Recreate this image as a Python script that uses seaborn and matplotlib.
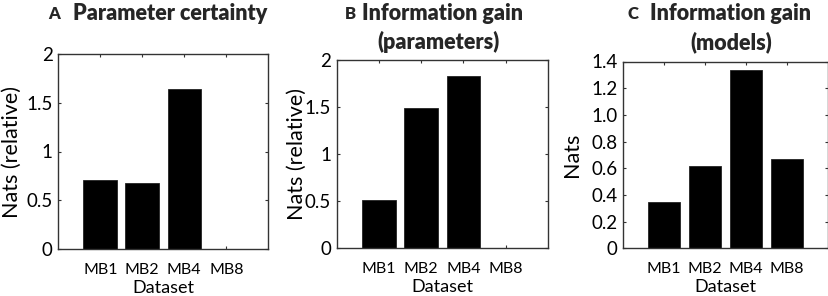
import matplotlib
matplotlib.use("Agg")
import matplotlib.pyplot as plt
import seaborn as sns
import pandas as pd

datasets = ["MB1", "MB2", "MB4", "MB8"]
param_certainty = [0.705, 0.677, 1.64, 0.0]
info_gain_params = [0.51, 1.49, 1.83, 0.0]
info_gain_models = [0.345, 0.62, 1.34, 0.668]

yticks_ab = [0, 0.5, 1, 1.5, 2]
yticklabels_ab = ["0", "0.5", "1", "1.5", "2"]
yticks_c = [0, 0.2, 0.4, 0.6, 0.8, 1.0, 1.2, 1.4]
yticklabels_c = ["0", "0.2", "0.4", "0.6", "0.8", "1.0", "1.2", "1.4"]

sns.set_theme(style="white")
FONT = ["Lato", "DejaVu Sans"]
plt.rcParams["font.family"] = FONT

W, H = 829, 296
fig = plt.figure(figsize=(W / 100, H / 100), dpi=100)

def ax_at(l, r, t, b):
    return fig.add_axes([l / W, 1 - b / H, (r - l) / W, (b - t) / H])

boxes = [(58.3, 268.3, 54.0, 249.0), (336.7, 548.0, 60.0, 248.3), (623.0, 828.0, 61.5, 248.3)]
ylabel_x = [12, 297, 572]
axes = [ax_at(*b) for b in boxes]
vals = [param_certainty, info_gain_params, info_gain_models]
ylabels = ["Nats (relative)", "Nats (relative)", "Nats"]
ylims = [(0, 2), (0, 2), (0, 1.4)]
yt = [(yticks_ab, yticklabels_ab), (yticks_ab, yticklabels_ab), (yticks_c, yticklabels_c)]

for ax, box, lx, v, yl, lim, (ticks, labels) in zip(axes, boxes, ylabel_x, vals, ylabels, ylims, yt):
    df = pd.DataFrame({"Dataset": datasets, "v": v})
    sns.barplot(data=df, x="Dataset", y="v", order=datasets, color="black",
                saturation=1, width=0.8, edgecolor="#222222", linewidth=0.6, ax=ax)
    ax.set_xlim(-1, 4)
    ax.set_ylim(*lim)
    ax.set_yticks(ticks)
    ax.set_yticklabels(labels, fontsize=13.5, color="black")
    ax.set_xticks(range(len(datasets)))
    ax.set_xticklabels(datasets, fontsize=11.5, color="black")
    ax.set_xlabel("Dataset", fontsize=13, color="black", labelpad=2)
    ax.set_ylabel(yl, fontsize=15.5, color="black", va="center")
    ax.yaxis.set_label_coords((lx - box[0]) / (box[1] - box[0]), 0.5)
    for s in ax.spines.values():
        s.set_visible(True)
        s.set_color("#333333")
        s.set_linewidth(1.0)
    ax.tick_params(direction="in", length=2, width=0.8, color="#333333",
                   top=True, right=True, bottom=True, left=True)
    ax.tick_params(axis="x", pad=10)
    ax.tick_params(axis="y", pad=4)
    ax.set_facecolor("white")
    ax.grid(False)

# titles
TS = 15.5
LS = 12
fig.text(48 / W, 1 - 14 / H, "A", fontsize=LS, fontweight="heavy", va="center", ha="left")
fig.text(73 / W, 1 - 14 / H, "Parameter certainty", fontsize=TS, fontweight="heavy", va="center", ha="left")
fig.text(345 / W, 1 - 14 / H, "B", fontsize=LS, fontweight="heavy", va="center", ha="left")
fig.text(362 / W, 1 - 14 / H, "Information gain", fontsize=TS, fontweight="heavy", va="center", ha="left")
fig.text(439 / W, 1 - 42 / H, "(parameters)", fontsize=TS, fontweight="heavy", va="center", ha="center")
fig.text(628 / W, 1 - 14 / H, "C", fontsize=LS, fontweight="heavy", va="center", ha="left")
fig.text(650 / W, 1 - 14 / H, "Information gain", fontsize=TS, fontweight="heavy", va="center", ha="left")
fig.text(731 / W, 1 - 42 / H, "(models)", fontsize=TS, fontweight="heavy", va="center", ha="center")

fig.savefig("out.png", dpi=100, facecolor="white")
